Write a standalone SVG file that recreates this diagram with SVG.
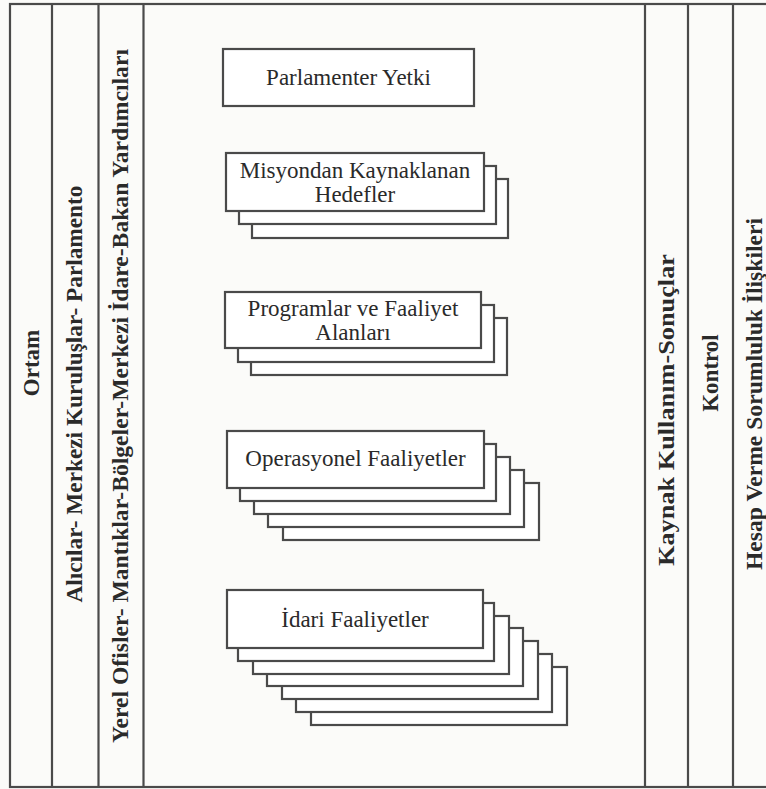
<svg xmlns="http://www.w3.org/2000/svg" width="766" height="789" viewBox="0 0 766 789">
<style>
.bg{fill:#fbfbf9}
.ln{stroke:#4a4a4a;stroke-width:2.2;fill:none}
.bx{fill:#ffffff;stroke:#4a4a4a;stroke-width:2.2}
.vt{font-family:"Liberation Serif","Times New Roman",serif;font-weight:bold;font-size:23px;fill:#2a2a2a;text-anchor:middle}
.bt{font-family:"Liberation Serif","Times New Roman",serif;font-size:23px;fill:#2a2a2a;text-anchor:middle}
</style>
<rect class="bg" x="0" y="0" width="766" height="789"/>
<g id="frame">
<rect class="ln" x="10" y="4" width="770" height="783"/>
<line class="ln" x1="52" y1="4" x2="52" y2="787"/>
<line class="ln" x1="98.5" y1="4" x2="98.5" y2="787"/>
<line class="ln" x1="143.5" y1="4" x2="143.5" y2="787"/>
<line class="ln" x1="645" y1="4" x2="645" y2="787"/>
<line class="ln" x1="688" y1="4" x2="688" y2="787"/>
<line class="ln" x1="733" y1="4" x2="733" y2="787"/>
</g>
<g id="col-ortam"><text class="vt" transform="translate(38.5,363) rotate(-90)">Ortam</text></g>
<g id="col-alicilar"><text class="vt" textLength="417" lengthAdjust="spacingAndGlyphs" transform="translate(82,394) rotate(-90)">Alıcılar- Merkezi Kuruluşlar- Parlamento</text></g>
<g id="col-yerel"><text class="vt" textLength="694" lengthAdjust="spacingAndGlyphs" transform="translate(128,396) rotate(-90)">Yerel Ofisler- Mantıklar-Bölgeler-Merkezi İdare-Bakan Yardımcıları</text></g>
<g id="col-kaynak"><text class="vt" textLength="312" lengthAdjust="spacingAndGlyphs" transform="translate(674,410) rotate(-90)">Kaynak Kullanım-Sonuçlar</text></g>
<g id="col-kontrol"><text class="vt" transform="translate(718,373) rotate(-90)">Kontrol</text></g>
<g id="col-hesap"><text class="vt" textLength="352" lengthAdjust="spacingAndGlyphs" transform="translate(762,394) rotate(-90)">Hesap Verme Sorumluluk İlişkileri</text></g>

<g id="parlamenter">
<rect class="bx" x="223" y="49" width="251" height="57"/>
<text class="bt" x="348.5" y="85">Parlamenter Yetki</text>
</g>
<g id="misyondan">
<rect class="bx" x="252" y="179" width="256" height="59"/>
<rect class="bx" x="239" y="166" width="257" height="58"/>
<rect class="bx" x="226" y="153" width="258" height="58"/>
<text class="bt" x="355" y="178">Misyondan Kaynaklanan</text>
<text class="bt" x="355" y="202">Hedefler</text>
</g>
<g id="programlar">
<rect class="bx" x="251" y="318" width="256" height="57"/>
<rect class="bx" x="238" y="305" width="256" height="57"/>
<rect class="bx" x="225" y="292" width="256" height="56"/>
<text class="bt" x="353" y="316">Programlar ve Faaliyet</text>
<text class="bt" x="353" y="340">Alanları</text>
</g>
<g id="operasyonel">
<rect class="bx" x="283" y="483" width="256" height="57"/>
<rect class="bx" x="268" y="470" width="256" height="57"/>
<rect class="bx" x="254" y="457" width="256" height="57"/>
<rect class="bx" x="240" y="444" width="256" height="57"/>
<rect class="bx" x="227" y="431" width="257" height="57"/>
<text class="bt" x="355.5" y="466">Operasyonel Faaliyetler</text>
</g>
<g id="idari">
<rect class="bx" x="311" y="667" width="256" height="58"/>
<rect class="bx" x="296" y="654" width="256" height="58"/>
<rect class="bx" x="282" y="641" width="256" height="58"/>
<rect class="bx" x="267" y="628" width="256" height="58"/>
<rect class="bx" x="253" y="616" width="256" height="58"/>
<rect class="bx" x="238" y="603" width="256" height="58"/>
<rect class="bx" x="227" y="590" width="256" height="58"/>
<text class="bt" x="355" y="627">İdari Faaliyetler</text>
</g>
<g id="connectors"></g>
</svg>
